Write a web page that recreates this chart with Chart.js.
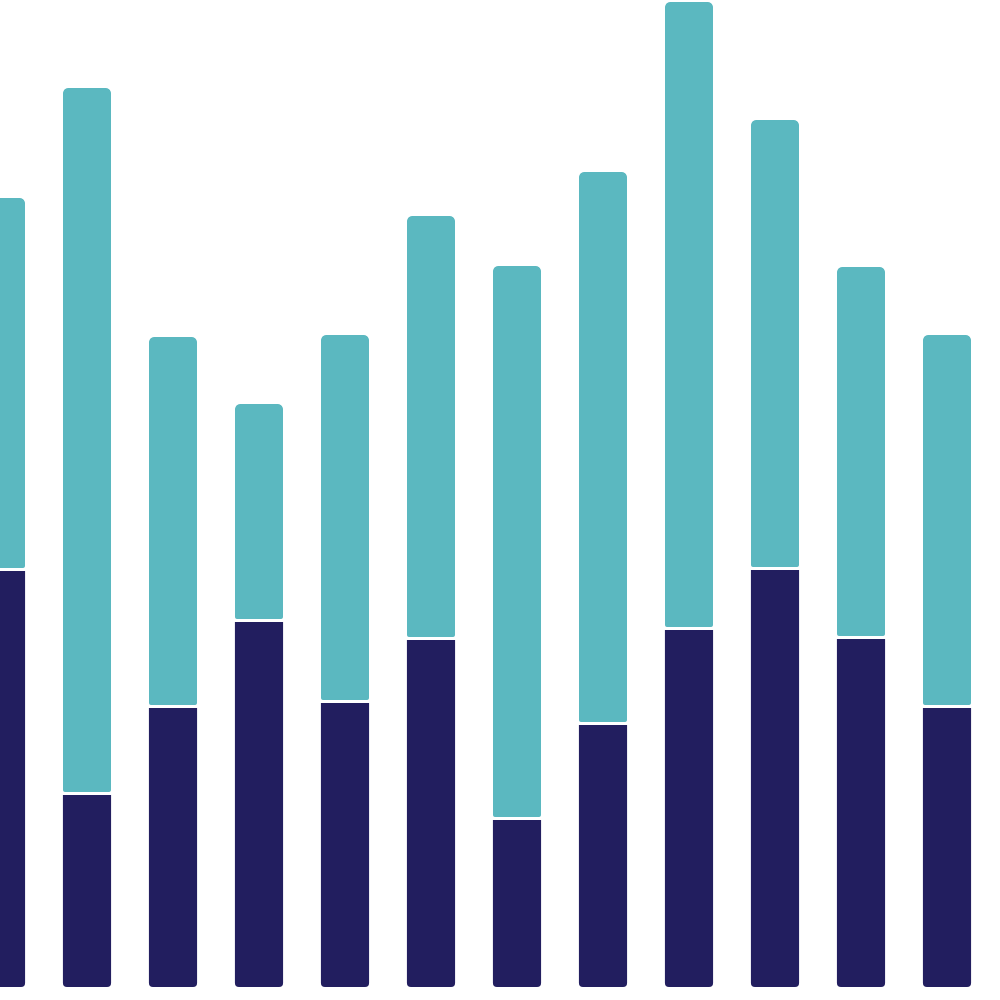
<!DOCTYPE html>
<html>
<head>
<meta charset="utf-8">
<script src="https://cdn.jsdelivr.net/npm/chart.js"></script>
<style>
  html, body { margin: 0; padding: 0; background: #fff; overflow: hidden; }
  #wrap { position: absolute; left: -42px; top: 0; width: 1032px; height: 1000px; }
</style>
</head>
<body>
<div id="wrap"><canvas id="myChart"></canvas></div>
<script>
// one entry per bar, left to right (first bar is cut off by the left edge)
const labels = ["1", "2", "3", "4", "5", "6", "7", "8", "9", "10", "11", "12"];
const lowerValues = [416, 192, 279, 365, 284, 347, 167, 262, 357, 417, 348, 279];
const upperValues = [373, 707, 371, 218, 368, 424, 554, 553, 628, 450, 372, 373];
const yMax = 987;

const data = {
  labels: labels,
  datasets: [
    {
      label: "lower",
      data: lowerValues,
      backgroundColor: "#221e5f",
      borderWidth: 0,
      borderSkipped: false,
      borderRadius: { topLeft: 0, topRight: 0, bottomLeft: 4, bottomRight: 4 },
      barPercentage: 0.56,
      categoryPercentage: 1
    },
    {
      label: "upper",
      data: upperValues,
      backgroundColor: "#5bb8c0",
      borderColor: "#ffffff",
      borderWidth: { top: 0, left: 0, right: 0, bottom: 3 },
      borderSkipped: false,
      borderRadius: 5,
      barPercentage: 0.56,
      categoryPercentage: 1
    }
  ]
};

const config = {
  type: "bar",
  data,
  options: {
    responsive: true,
    maintainAspectRatio: false,
    animation: false,
    layout: { padding: { top: 0, bottom: 13, left: 0, right: 0 } },
    plugins: { legend: { display: false }, tooltip: { enabled: false } },
    scales: {
      x: { stacked: true, display: false, grid: { display: false } },
      y: { stacked: true, display: false, min: 0, max: yMax, grid: { display: false } }
    }
  }
};

var myChart = new Chart(document.getElementById("myChart"), config);
</script>
</body>
</html>
